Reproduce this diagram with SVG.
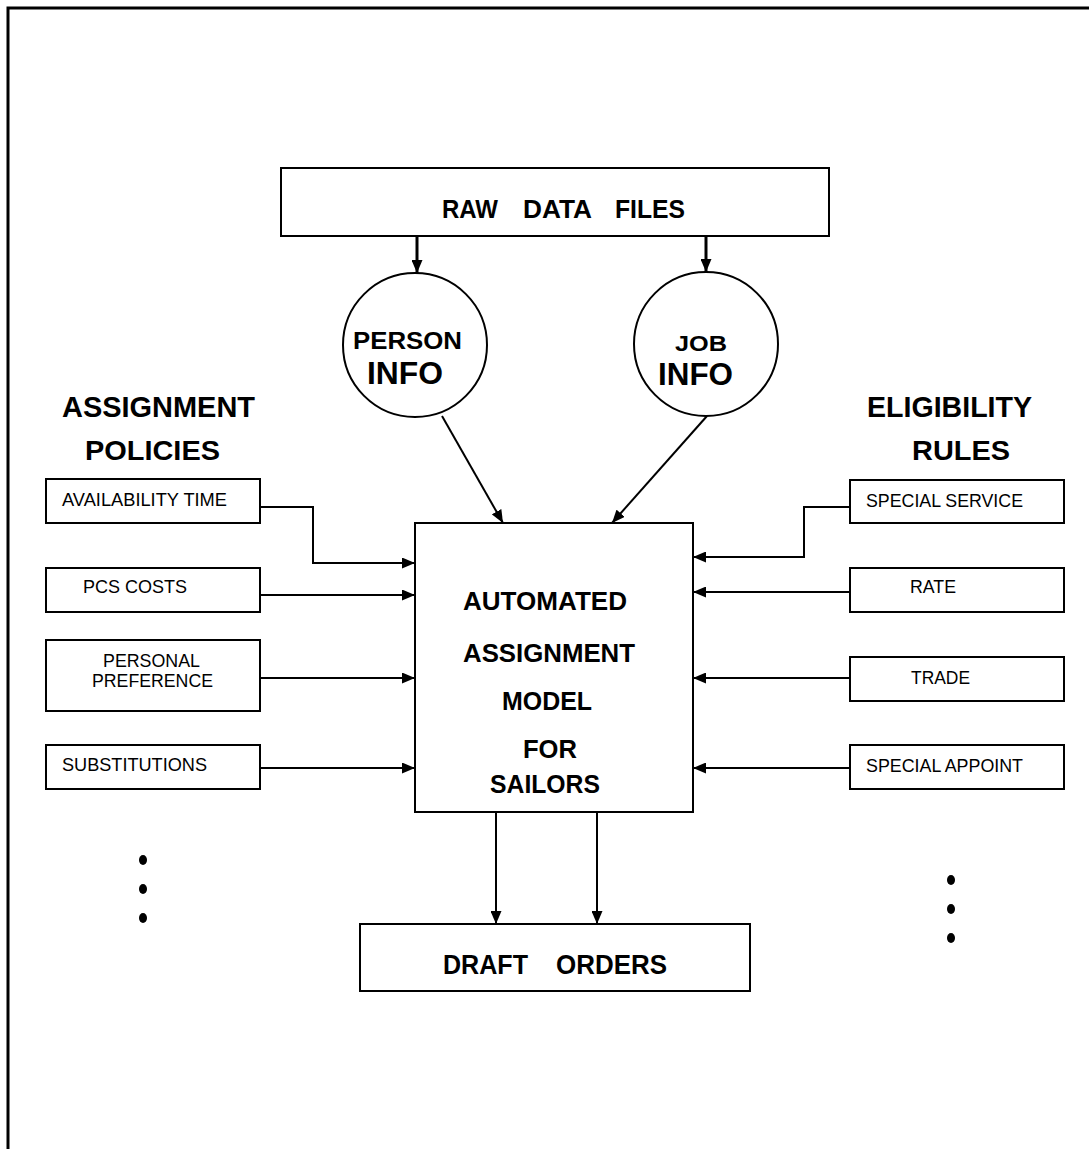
<svg xmlns="http://www.w3.org/2000/svg" width="1089" height="1149" viewBox="0 0 1089 1149">
<style>
.box{fill:#fff;stroke:#000;stroke-width:2}
.frame{fill:none;stroke:#000;stroke-width:3}
.c{fill:none;stroke:#000;stroke-width:2}
.ct{fill:none;stroke:#000;stroke-width:3}
.b{font-family:"Liberation Sans",Arial,sans-serif;font-weight:bold;fill:#000}
.s{font-family:"Liberation Sans",Arial,sans-serif;font-size:18px;fill:#000}
</style>
<defs>
<marker id="ah" viewBox="0 0 13 11" refX="13" refY="5.5" markerWidth="13" markerHeight="11" markerUnits="userSpaceOnUse" orient="auto">
<path d="M0,0 L13,5.5 L0,11 Z" fill="#000"/>
</marker>
</defs>
<rect width="1089" height="1149" fill="#fff"/>
<rect class="frame" x="8" y="8" width="1100" height="1160"/>

<g id="raw-data-files">
<rect class="box" x="281" y="168" width="548" height="68"/>
<text class="b" x="442" y="218" font-size="25" textLength="56" lengthAdjust="spacingAndGlyphs">RAW</text>
<text class="b" x="523" y="218" font-size="25" textLength="69" lengthAdjust="spacingAndGlyphs">DATA</text>
<text class="b" x="615" y="218" font-size="25" textLength="70" lengthAdjust="spacingAndGlyphs">FILES</text>
</g>
<g id="person-info">
<circle class="box" cx="415" cy="345" r="72"/>
<text class="b" x="353" y="349" font-size="24" textLength="109" lengthAdjust="spacingAndGlyphs">PERSON</text>
<text class="b" x="367" y="384" font-size="32" textLength="76" lengthAdjust="spacingAndGlyphs">INFO</text>
</g>
<g id="job-info">
<circle class="box" cx="706" cy="344" r="72"/>
<text class="b" x="675" y="351" font-size="22" textLength="52" lengthAdjust="spacingAndGlyphs">JOB</text>
<text class="b" x="658" y="385" font-size="31" textLength="75" lengthAdjust="spacingAndGlyphs">INFO</text>
</g>
<g id="assignment-policies">
<text class="b" x="62" y="417" font-size="30" textLength="193" lengthAdjust="spacingAndGlyphs">ASSIGNMENT</text>
<text class="b" x="85" y="460" font-size="28" textLength="135" lengthAdjust="spacingAndGlyphs">POLICIES</text>
</g>
<g id="eligibility-rules">
<text class="b" x="867" y="417" font-size="30" textLength="165" lengthAdjust="spacingAndGlyphs">ELIGIBILITY</text>
<text class="b" x="912" y="460" font-size="28" textLength="98" lengthAdjust="spacingAndGlyphs">RULES</text>
</g>
<g id="availability-time">
<rect class="box" x="46" y="479" width="214" height="44"/>
<text class="s" x="62" y="506" textLength="165" lengthAdjust="spacingAndGlyphs">AVAILABILITY TIME</text>
</g>
<g id="pcs-costs">
<rect class="box" x="46" y="568" width="214" height="44"/>
<text class="s" x="83" y="593" textLength="104" lengthAdjust="spacingAndGlyphs">PCS COSTS</text>
</g>
<g id="personal-preference">
<rect class="box" x="46" y="640" width="214" height="71"/>
<text class="s" x="103" y="667" textLength="97" lengthAdjust="spacingAndGlyphs">PERSONAL</text>
<text class="s" x="92" y="687" textLength="121" lengthAdjust="spacingAndGlyphs">PREFERENCE</text>
</g>
<g id="substitutions">
<rect class="box" x="46" y="745" width="214" height="44"/>
<text class="s" x="62" y="771" textLength="145" lengthAdjust="spacingAndGlyphs">SUBSTITUTIONS</text>
</g>
<g id="special-service">
<rect class="box" x="850" y="480" width="214" height="43"/>
<text class="s" x="866" y="507" textLength="157" lengthAdjust="spacingAndGlyphs">SPECIAL SERVICE</text>
</g>
<g id="rate">
<rect class="box" x="850" y="568" width="214" height="44"/>
<text class="s" x="910" y="593" textLength="46" lengthAdjust="spacingAndGlyphs">RATE</text>
</g>
<g id="trade">
<rect class="box" x="850" y="657" width="214" height="44"/>
<text class="s" x="911" y="684" textLength="59" lengthAdjust="spacingAndGlyphs">TRADE</text>
</g>
<g id="special-appoint">
<rect class="box" x="850" y="745" width="214" height="44"/>
<text class="s" x="866" y="772" textLength="157" lengthAdjust="spacingAndGlyphs">SPECIAL APPOINT</text>
</g>
<g id="model">
<rect class="box" x="415" y="523" width="278" height="289"/>
<text class="b" x="463" y="610" font-size="25" textLength="164" lengthAdjust="spacingAndGlyphs">AUTOMATED</text>
<text class="b" x="463" y="662" font-size="25" textLength="172" lengthAdjust="spacingAndGlyphs">ASSIGNMENT</text>
<text class="b" x="502" y="710" font-size="25" textLength="90" lengthAdjust="spacingAndGlyphs">MODEL</text>
<text class="b" x="523" y="758" font-size="25" textLength="54" lengthAdjust="spacingAndGlyphs">FOR</text>
<text class="b" x="490" y="793" font-size="25" textLength="110" lengthAdjust="spacingAndGlyphs">SAILORS</text>
</g>
<g id="draft-orders">
<rect class="box" x="360" y="924" width="390" height="67"/>
<text class="b" x="443" y="974" font-size="27" textLength="85" lengthAdjust="spacingAndGlyphs">DRAFT</text>
<text class="b" x="556" y="974" font-size="27" textLength="111" lengthAdjust="spacingAndGlyphs">ORDERS</text>
</g>
<g id="ellipsis">
<ellipse cx="143" cy="860" rx="4" ry="5"/>
<ellipse cx="143" cy="889" rx="4" ry="5"/>
<ellipse cx="143" cy="918" rx="4" ry="5"/>
<ellipse cx="951" cy="880" rx="4" ry="5"/>
<ellipse cx="951" cy="909" rx="4" ry="5"/>
<ellipse cx="951" cy="938" rx="4" ry="5"/>
</g>

<g id="connectors">
<line class="ct" x1="417" y1="236" x2="417" y2="273" marker-end="url(#ah)"/>
<line class="ct" x1="706" y1="236" x2="706" y2="272" marker-end="url(#ah)"/>
<line class="c" x1="442" y1="416" x2="503" y2="523" marker-end="url(#ah)"/>
<line class="c" x1="707" y1="416" x2="612" y2="523" marker-end="url(#ah)"/>
<polyline class="c" points="260,507 313,507 313,563 415,563" marker-end="url(#ah)"/>
<line class="c" x1="260" y1="595" x2="415" y2="595" marker-end="url(#ah)"/>
<line class="c" x1="260" y1="678" x2="415" y2="678" marker-end="url(#ah)"/>
<line class="c" x1="260" y1="768" x2="415" y2="768" marker-end="url(#ah)"/>
<polyline class="c" points="850,507 804,507 804,557 693,557" marker-end="url(#ah)"/>
<line class="c" x1="850" y1="592" x2="693" y2="592" marker-end="url(#ah)"/>
<line class="c" x1="850" y1="678" x2="693" y2="678" marker-end="url(#ah)"/>
<line class="c" x1="850" y1="768" x2="693" y2="768" marker-end="url(#ah)"/>
<line class="c" x1="496" y1="812" x2="496" y2="924" marker-end="url(#ah)"/>
<line class="c" x1="597" y1="812" x2="597" y2="924" marker-end="url(#ah)"/>
</g>
</svg>
